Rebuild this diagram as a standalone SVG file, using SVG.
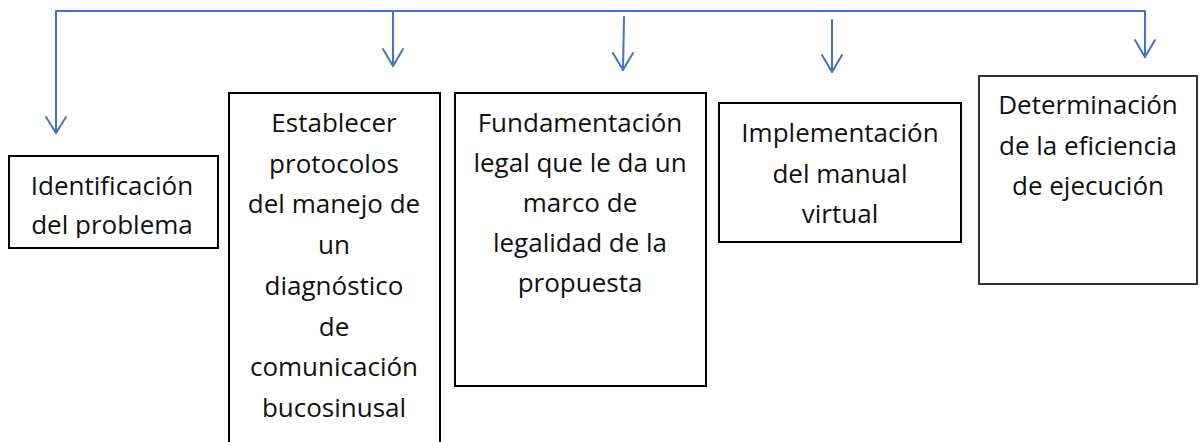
<svg xmlns="http://www.w3.org/2000/svg" width="1200" height="442" viewBox="0 0 1200 442">
  <style>
    .box { fill: #ffffff; stroke: #000000; stroke-width: 2; }
    .conn { fill: none; stroke: #4472C4; stroke-width: 2; stroke-linecap: round; stroke-linejoin: round; }
    .lbl { font-family: "Open Sans", Lato, "Liberation Sans", sans-serif; font-size: 26px; fill: #111111; text-anchor: middle; font-variant-ligatures: none; }
  </style>
  <defs>
    <clipPath id="clip1"><rect x="9" y="156" width="209" height="82"/></clipPath>
  </defs>

  <g id="connectors">
    <polyline class="conn" points="56,133 56,11 1145,11 1145,57"/>
    <line class="conn" x1="393" y1="11" x2="393" y2="66"/>
    <line class="conn" x1="624" y1="17" x2="623" y2="70"/>
    <line class="conn" x1="832" y1="20" x2="832" y2="72"/>
    <path class="conn" d="M46,117 L56,133 L66,117"/>
    <path class="conn" d="M383,49 L393,66 L403,49"/>
    <path class="conn" d="M613,53 L623,70 L633,53"/>
    <path class="conn" d="M822,55 L832,72 L842,55"/>
    <path class="conn" d="M1135,40 L1145,57 L1155,40"/>
  </g>

  <g id="node-identificacion">
    <rect class="box" x="9" y="156" width="209" height="92"/>
    <g clip-path="url(#clip1)">
      <text class="lbl" x="112" y="195">Identificación</text>
      <text class="lbl" x="112" y="234">del problema</text>
    </g>
  </g>

  <g id="node-establecer">
    <rect class="box" x="229" y="93" width="211" height="360"/>
    <text class="lbl" x="334" y="132">Establecer</text>
    <text class="lbl" x="334" y="172.7">protocolos</text>
    <text class="lbl" x="334" y="213.4">del manejo de</text>
    <text class="lbl" x="334" y="254">un</text>
    <text class="lbl" x="334" y="294.8">diagnóstico</text>
    <text class="lbl" x="334" y="335.5">de</text>
    <text class="lbl" x="334" y="376">comunicación</text>
    <text class="lbl" x="334" y="417">bucosinusal</text>
  </g>

  <g id="node-fundamentacion">
    <rect class="box" x="455" y="93" width="251" height="293"/>
    <text class="lbl" x="580" y="132">Fundamentación</text>
    <text class="lbl" x="580" y="172">legal que le da un</text>
    <text class="lbl" x="580" y="212">marco de</text>
    <text class="lbl" x="580" y="252">legalidad de la</text>
    <text class="lbl" x="580" y="292">propuesta</text>
  </g>

  <g id="node-implementacion">
    <rect class="box" x="719" y="103" width="242" height="139"/>
    <text class="lbl" x="840" y="142">Implementación</text>
    <text class="lbl" x="840" y="183">del manual</text>
    <text class="lbl" x="840" y="223">virtual</text>
  </g>

  <g id="node-determinacion">
    <rect class="box" x="979" y="76" width="218" height="208" style="stroke:#333333"/>
    <text class="lbl" x="1088" y="114">Determinación</text>
    <text class="lbl" x="1088" y="155">de la eficiencia</text>
    <text class="lbl" x="1088" y="195">de ejecución</text>
  </g>
</svg>
